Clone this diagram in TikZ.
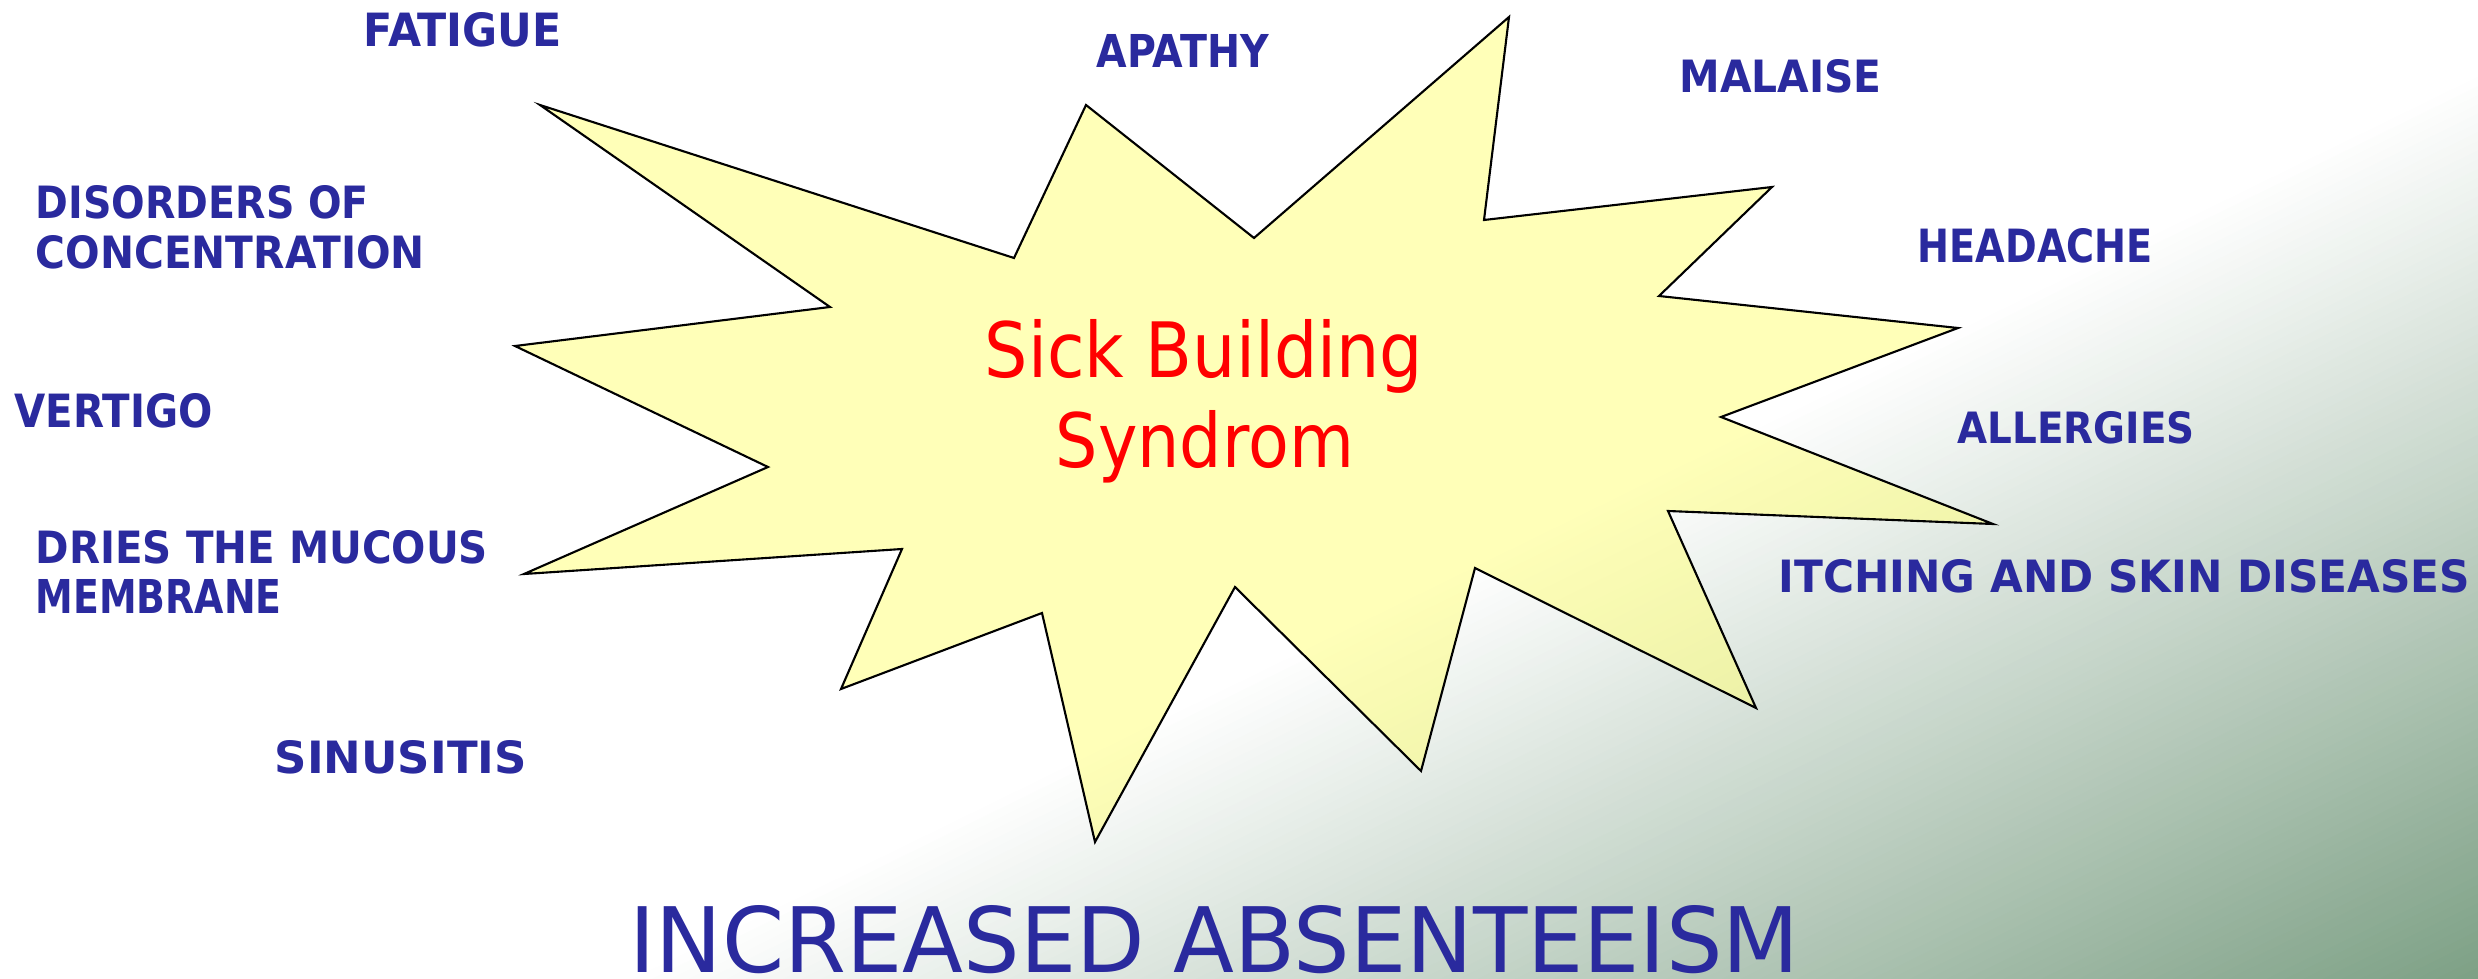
\documentclass[tikz,border=0pt]{standalone}
\usepackage{fontspec}
\setmainfont{DejaVu Sans}
\usepackage{graphicx}
\definecolor{lblue}{RGB}{42,42,158}
\definecolor{bggreen}{RGB}{125,160,133}
\definecolor{staryellow}{RGB}{255,255,127}
\definecolor{sbred}{RGB}{255,0,0}
\newcommand{\fitbox}[3]{\resizebox{#1}{#2}{#3}}
\begin{document}
\begin{tikzpicture}[x=0.01cm,y=-0.01cm,
  lbl/.style={anchor=base west, inner sep=0pt, text=lblue, font=\bfseries},
  lbltwo/.style={anchor=north west, inner sep=0pt, text=lblue, align=left,
    font=\bfseries\fontsize{10pt}{14.23pt}\selectfont},
  title/.style={anchor=base west, inner sep=0pt, text=sbred},
  bottom/.style={anchor=base west, inner sep=0pt, text=lblue},
  starshape/.style={draw=black, line width=0.6pt, fill=staryellow, fill opacity=0.55, line join=miter, miter limit=40}]
\useasboundingbox (0,0) rectangle (2478,979);
% background gradient
\fill[white] (0,0) rectangle (2478,979);
\begin{scope}
\clip (0,0) rectangle (2478,979);
\foreach \i in {0,...,99}{
  \pgfmathsetmacro\G{1150+\i*8.25}
  \pgfmathsetmacro\p{100*(\i/99)}
  \fill[bggreen!\p!white] ({\G*0.439+3000*0.898},{\G*0.898-3000*0.439})
    -- ({\G*0.439-3000*0.898},{\G*0.898+3000*0.439})
    -- ++({3000*0.439},{3000*0.898}) -- ++({6000*0.898},{-6000*0.439}) -- cycle;
}
\end{scope}
% star
\draw[starshape] (540,105) -- (1014,258) -- (1086,105) -- (1254,238) -- (1509,17)
  -- (1484,220) -- (1772,187) -- (1659,296) -- (1958,328) -- (1721,417)
  -- (1993,524) -- (1668,511) -- (1756,708) -- (1475,568) -- (1421,771)
  -- (1235,587) -- (1095,842) -- (1042,613) -- (841,689) -- (902,549)
  -- (524,574) -- (768,467) -- (515,346) -- (830,307) -- cycle;
% center text
\node[title] (sick) at (984,378) {\fitbox{4.38cm}{0.58cm}{Sick Building}};
\node[title] (syn) at (1055,468) {\fitbox{2.98cm}{0.57cm}{Syndrom}};
% labels
\node[lbl] (fatigue) at (363,47) {\fitbox{1.98cm}{0.34cm}{FATIGUE}};
\node[lbl] (apathy) at (1096,68) {\fitbox{1.72cm}{0.33cm}{APATHY}};
\node[lbl] (malaise) at (1679,93) {\fitbox{2.02cm}{0.33cm}{MALAISE}};
\node[lbl] (headache) at (1917,263) {\fitbox{2.35cm}{0.34cm}{HEADACHE}};
\node[lbl] (allergies) at (1957,443) {\fitbox{2.37cm}{0.32cm}{ALLERGIES}};
\node[lbl] (itching) at (1778,593) {\fitbox{6.91cm}{0.33cm}{ITCHING AND SKIN DISEASES}};
\node[lbltwo] (disorders) at (35,185) {\fitbox{3.33cm}{0.33cm}{DISORDERS OF}\\\fitbox{3.89cm}{0.33cm}{CONCENTRATION}};
\node[lbl] (vertigo) at (14,428) {\fitbox{1.98cm}{0.34cm}{VERTIGO}};
\node[lbltwo] (dries) at (35,530) {\fitbox{4.52cm}{0.33cm}{DRIES THE MUCOUS}\\\fitbox{2.46cm}{0.34cm}{MEMBRANE}};
\node[lbl] (sinusitis) at (274,773) {\fitbox{2.52cm}{0.33cm}{SINUSITIS}};
% bottom
\node[bottom] (absent) at (629,972) {\fitbox{11.69cm}{0.67cm}{INCREASED ABSENTEEISM}};
\end{tikzpicture}
\end{document}
